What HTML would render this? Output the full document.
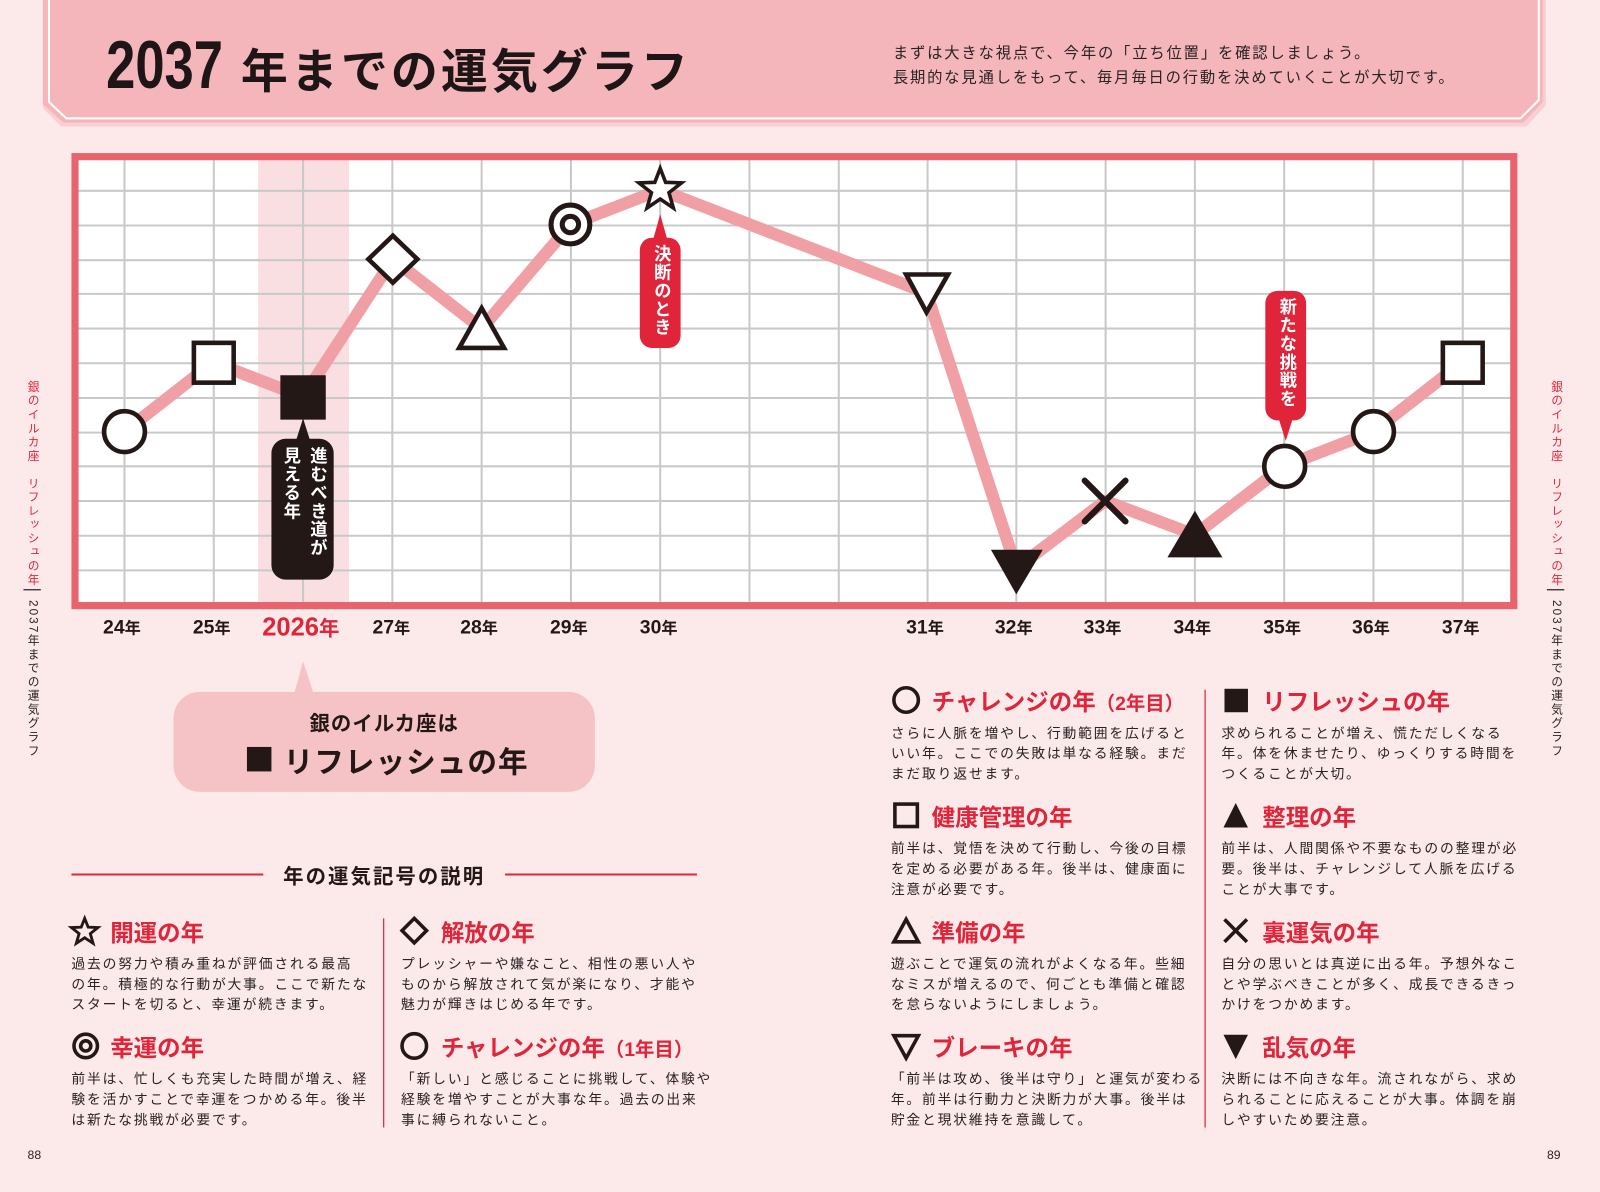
<!DOCTYPE html>
<html><head><meta charset="utf-8">
<style>
html,body{margin:0;padding:0;}
body{width:1600px;height:1192px;overflow:hidden;background:#fce9ea;font-family:"Liberation Sans","Noto Sans CJK JP",sans-serif;}
#w{position:absolute;left:0;top:0;width:1568px;height:1168px;transform:scale(1.020408);transform-origin:0 0;color:#2a2224;}
.abs{position:absolute;white-space:nowrap;}
.t{font-weight:bold;color:#e0253a;font-size:23px;}
.b{font-size:13.5px;line-height:20px;letter-spacing:1.8px;color:#2a2224;}
.ic{position:absolute;}
.vt{position:absolute;writing-mode:vertical-rl;font-size:11.5px;letter-spacing:2px;}
</style></head><body><div id="w">
<svg class="abs" style="left:0;top:0" width="1568" height="1168">
<polygon points="42,0 1515,0 1515,103 1496,124 60,124 42,106" fill="#f9cfd2"/>
<polygon points="42,0 1512,0 1512,100 1493,120 62,120 42,102" fill="#f4b6ba"/>
<polyline points="48,0 48,100 65,116 1490,116 1508,98 1508,0" fill="none" stroke="#fff" stroke-width="2"/>
<rect x="70" y="150" width="1417" height="447" fill="#fff"/>
<rect x="253" y="154" width="89" height="440" fill="#f9dfe1"/>
<g stroke="#c9c9c9" stroke-width="2">
<line x1="122" y1="154" x2="122" y2="594"/><line x1="209.5" y1="154" x2="209.5" y2="594"/><line x1="297" y1="154" x2="297" y2="594"/><line x1="384.5" y1="154" x2="384.5" y2="594"/><line x1="472" y1="154" x2="472" y2="594"/><line x1="559.5" y1="154" x2="559.5" y2="594"/><line x1="647" y1="154" x2="647" y2="594"/><line x1="734.5" y1="154" x2="734.5" y2="594"/><line x1="822" y1="154" x2="822" y2="594"/><line x1="909" y1="154" x2="909" y2="594"/><line x1="996" y1="154" x2="996" y2="594"/><line x1="1083.5" y1="154" x2="1083.5" y2="594"/><line x1="1171" y1="154" x2="1171" y2="594"/><line x1="1258.5" y1="154" x2="1258.5" y2="594"/><line x1="1346" y1="154" x2="1346" y2="594"/><line x1="1433.5" y1="154" x2="1433.5" y2="594"/>
<line x1="74" y1="187" x2="1483" y2="187"/><line x1="74" y1="221" x2="1483" y2="221"/><line x1="74" y1="255" x2="1483" y2="255"/><line x1="74" y1="288" x2="1483" y2="288"/><line x1="74" y1="322" x2="1483" y2="322"/><line x1="74" y1="356" x2="1483" y2="356"/><line x1="74" y1="390" x2="1483" y2="390"/><line x1="74" y1="424" x2="1483" y2="424"/><line x1="74" y1="457" x2="1483" y2="457"/><line x1="74" y1="491" x2="1483" y2="491"/><line x1="74" y1="525" x2="1483" y2="525"/><line x1="74" y1="559" x2="1483" y2="559"/>
</g>
<rect x="73.5" y="153.5" width="1410" height="440" fill="none" stroke="#e8636b" stroke-width="7"/>
<polyline points="122,423 209,355 297,389 385,254 472,322 559,220 647,186 908,287 996,557 1083,491 1171,524 1258,457 1346,423 1433,355" fill="none" stroke="#f0a0a4" stroke-width="12" stroke-linejoin="round"/>
<polygon points="297,410 290,432 304,432" fill="#231815"/>
<rect x="266" y="430" width="61" height="138" rx="14" fill="#231815"/>
<polygon points="647,210 640,235 654,235" fill="#e0253a"/>
<rect x="627" y="233" width="40" height="108" rx="12" fill="#e0253a"/>
<polygon points="1260,432 1253,410 1267,410" fill="#e0253a"/>
<rect x="1240" y="285" width="40" height="127" rx="12" fill="#e0253a"/>
<g stroke="#231815" stroke-width="4.5" fill="#fff">
<circle cx="122" cy="423" r="20"/>
<rect x="190" y="336" width="39" height="39"/>
<rect x="277" y="370" width="40" height="39" fill="#231815"/>
<polygon points="385,231 409,254 385,277 361,254"/>
<polygon points="472,302 494,341 450,341"/>
<circle cx="559" cy="220" r="19" stroke-width="5"/><circle cx="559" cy="220" r="8" stroke-width="5"/>
<polygon points="647,165 652.3,178.7 667.9,179.2 655.6,188.8 659.9,203.8 647,195 634.1,203.8 638.4,188.8 626.1,179.2 641.7,178.7" stroke-width="3.5"/>
<polygon points="888,269 929,269 908,306"/>
<polygon points="975,541 1018,541 996,578" fill="#231815"/>
<polygon points="1171,505 1194,544 1148,544" fill="#231815"/>
<circle cx="1259" cy="457" r="20"/>
<circle cx="1346" cy="423" r="20"/>
<rect x="1414" y="336" width="39" height="39"/>
</g>
<g stroke="#231815" stroke-width="6" stroke-linecap="round"><line x1="1063" y1="471" x2="1103" y2="511"/><line x1="1103" y1="471" x2="1063" y2="511"/></g>
<polygon points="297,648 287,685 309,685" fill="#f5c2c5"/>
<rect x="170" y="678" width="413" height="98" rx="26" fill="#f5c2c5"/>
<line x1="70" y1="857" x2="258" y2="857" stroke="#e0253a" stroke-width="2"/>
<line x1="495" y1="857" x2="683" y2="857" stroke="#e0253a" stroke-width="2"/>
<line x1="376" y1="900" x2="376" y2="1105" stroke="#e0253a" stroke-width="1.2"/>
<line x1="1181" y1="676" x2="1181" y2="1105" stroke="#e0253a" stroke-width="1.2"/>
<line x1="23" y1="578" x2="40" y2="578" stroke="#2a2224" stroke-width="1.2"/>
<line x1="1516" y1="578" x2="1533" y2="578" stroke="#2a2224" stroke-width="1.2"/>
<g stroke="#231815" stroke-width="2.8" fill="none">
<polygon points="83,900 86.4,908.6 96,909 88.5,915 91.2,924.4 83,919 74.8,924.4 77.5,915 70,909 79.6,908.6"/>
<polygon points="406,900 418,912 406,924 394,912" stroke-width="3.5"/>
<circle cx="84" cy="1025" r="11.5" stroke-width="3.5"/><circle cx="84" cy="1025" r="5" stroke-width="3.5"/>
<circle cx="406" cy="1025" r="12" stroke-width="3.5"/>
<circle cx="888" cy="686" r="12" stroke-width="3.5"/>
<rect x="877" y="788" width="22" height="22" stroke-width="3.5"/>
<polygon points="888,901 900,923 876,923" stroke-width="3.5"/>
<polygon points="876,1015 900,1015 888,1037" stroke-width="3.5"/>
<line x1="1200" y1="901" x2="1222" y2="923" stroke-width="3.5"/><line x1="1222" y1="901" x2="1200" y2="923" stroke-width="3.5"/>
</g>
<g fill="#231815">
<rect x="1200" y="675" width="23" height="23"/>
<polygon points="1211,787 1223,811 1199,811"/>
<polygon points="1199,1014 1223,1014 1211,1038"/>
<rect x="242" y="732" width="24" height="24"/>
</g>
</svg>

<div class="abs" style="left:104px;top:28px;font-weight:bold;font-size:66px;line-height:70px;color:#1d1516;"><span style="display:inline-block;transform:scaleX(0.78);transform-origin:0 0;width:132px;font-family:'Liberation Sans Narrow','Liberation Sans',sans-serif;">2037</span><span style="font-size:46px;letter-spacing:3px;">年までの運気グラフ</span></div>
<div class="abs" style="left:875px;top:41px;font-size:15px;line-height:24px;letter-spacing:1.8px;color:#2a2224;">まずは大きな視点で、今年の「立ち位置」を確認しましょう。<br>長期的な見通しをもって、毎月毎日の行動を決めていくことが大切です。</div>

<div class="vt" style="left:299px;top:438px;color:#fff;font-weight:bold;font-size:17px;letter-spacing:1px;line-height:22px;">進むべき道が</div>
<div class="vt" style="left:273px;top:438px;color:#fff;font-weight:bold;font-size:17px;letter-spacing:1px;line-height:22px;">見える年</div>
<div class="vt" style="left:636px;top:240px;color:#fff;font-weight:bold;font-size:17px;letter-spacing:1px;line-height:22px;">決断のとき</div>
<div class="vt" style="left:1249px;top:292px;color:#fff;font-weight:bold;font-size:17px;letter-spacing:1px;line-height:22px;">新たな挑戦を</div>

<div style="position:absolute;top:603px;left:0;font-weight:bold;font-size:19px;color:#231815;">
<span class="abs" style="left:101px">24<small>年</small></span>
<span class="abs" style="left:189px">25<small>年</small></span>
<span class="abs" style="left:257px;top:-3px;color:#e0253a;font-size:25px;">2026<small style="font-size:20px">年</small></span>
<span class="abs" style="left:365px">27<small>年</small></span>
<span class="abs" style="left:451px">28<small>年</small></span>
<span class="abs" style="left:539px">29<small>年</small></span>
<span class="abs" style="left:627px">30<small>年</small></span>
<span class="abs" style="left:888px">31<small>年</small></span>
<span class="abs" style="left:975px">32<small>年</small></span>
<span class="abs" style="left:1062px">33<small>年</small></span>
<span class="abs" style="left:1150px">34<small>年</small></span>
<span class="abs" style="left:1238px">35<small>年</small></span>
<span class="abs" style="left:1325px">36<small>年</small></span>
<span class="abs" style="left:1413px">37<small>年</small></span>
</div>

<div class="abs" style="left:170px;width:413px;text-align:center;top:693px;font-size:20px;font-weight:bold;letter-spacing:1px;color:#231815;">銀のイルカ座は</div>
<div class="abs" style="left:278px;top:724px;font-size:29px;font-weight:bold;letter-spacing:1px;color:#231815;">リフレッシュの年</div>

<div class="abs" style="left:258px;width:237px;text-align:center;top:843px;font-size:20px;font-weight:bold;letter-spacing:2px;color:#231815;">年の運気記号の説明</div>

<div class="abs t" style="left:108px;top:895px;">開運の年</div>
<div class="abs b" style="left:70px;top:935px;">過去の努力や積み重ねが評価される最高<br>の年。積極的な行動が大事。ここで新たな<br>スタートを切ると、幸運が続きます。</div>
<div class="abs t" style="left:432px;top:895px;">解放の年</div>
<div class="abs b" style="left:393px;top:935px;">プレッシャーや嫌なこと、相性の悪い人や<br>ものから解放されて気が楽になり、才能や<br>魅力が輝きはじめる年です。</div>
<div class="abs t" style="left:108px;top:1008px;">幸運の年</div>
<div class="abs b" style="left:70px;top:1048px;">前半は、忙しくも充実した時間が増え、経<br>験を活かすことで幸運をつかめる年。後半<br>は新たな挑戦が必要です。</div>
<div class="abs t" style="left:432px;top:1008px;">チャレンジの年<span style="font-size:19px">（1年目）</span></div>
<div class="abs b" style="left:393px;top:1048px;">「新しい」と感じることに挑戦して、体験や<br>経験を増やすことが大事な年。過去の出来<br>事に縛られないこと。</div>

<div class="abs t" style="left:913px;top:669px;">チャレンジの年<span style="font-size:19px">（2年目）</span></div>
<div class="abs b" style="left:873px;top:709px;">さらに人脈を増やし、行動範囲を広げると<br>いい年。ここでの失敗は単なる経験。まだ<br>まだ取り返せます。</div>
<div class="abs t" style="left:1237px;top:669px;">リフレッシュの年</div>
<div class="abs b" style="left:1197px;top:709px;">求められることが増え、慌ただしくなる<br>年。体を休ませたり、ゆっくりする時間を<br>つくることが大切。</div>
<div class="abs t" style="left:913px;top:782px;">健康管理の年</div>
<div class="abs b" style="left:873px;top:822px;">前半は、覚悟を決めて行動し、今後の目標<br>を定める必要がある年。後半は、健康面に<br>注意が必要です。</div>
<div class="abs t" style="left:1237px;top:782px;">整理の年</div>
<div class="abs b" style="left:1197px;top:822px;">前半は、人間関係や不要なものの整理が必<br>要。後半は、チャレンジして人脈を広げる<br>ことが大事です。</div>
<div class="abs t" style="left:913px;top:895px;">準備の年</div>
<div class="abs b" style="left:873px;top:935px;">遊ぶことで運気の流れがよくなる年。些細<br>なミスが増えるので、何ごとも準備と確認<br>を怠らないようにしましょう。</div>
<div class="abs t" style="left:1237px;top:895px;">裏運気の年</div>
<div class="abs b" style="left:1197px;top:935px;">自分の思いとは真逆に出る年。予想外なこ<br>とや学ぶべきことが多く、成長できるきっ<br>かけをつかめます。</div>
<div class="abs t" style="left:913px;top:1008px;">ブレーキの年</div>
<div class="abs b" style="left:873px;top:1048px;">「前半は攻め、後半は守り」と運気が変わる<br>年。前半は行動力と決断力が大事。後半は<br>貯金と現状維持を意識して。</div>
<div class="abs t" style="left:1237px;top:1008px;">乱気の年</div>
<div class="abs b" style="left:1197px;top:1048px;">決断には不向きな年。流されながら、求め<br>られることに応えることが大事。体調を崩<br>しやすいため要注意。</div>

<div class="vt" style="left:24px;top:373px;color:#e0253a;">銀のイルカ座　リフレッシュの年</div>
<div class="vt" style="left:24px;top:588px;color:#2a2224;">2037年までの運気グラフ</div>
<div class="vt" style="left:1517px;top:373px;color:#e0253a;">銀のイルカ座　リフレッシュの年</div>
<div class="vt" style="left:1517px;top:588px;color:#2a2224;">2037年までの運気グラフ</div>
<div class="abs" style="left:27px;top:1125px;font-size:12px;">88</div>
<div class="abs" style="left:1516px;top:1125px;font-size:12px;">89</div>
</div></body></html>
